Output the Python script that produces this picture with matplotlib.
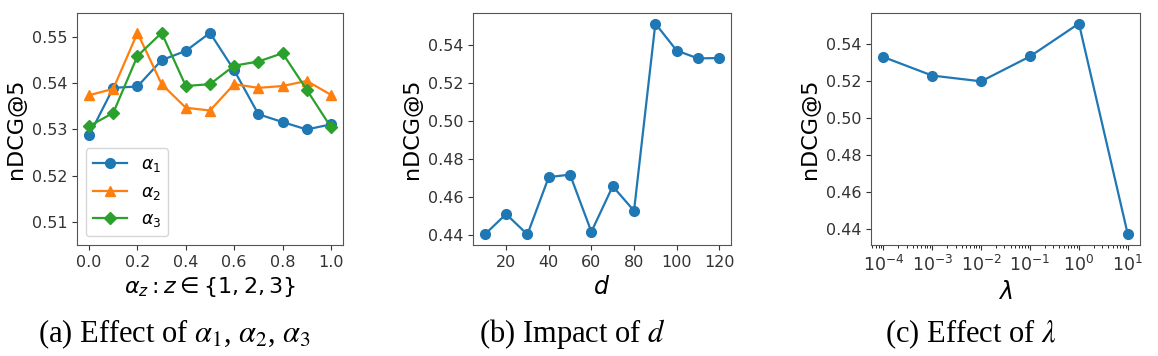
"""Parameter sensitivity - nDCG@5"""
import matplotlib
matplotlib.use('Agg')
import matplotlib.pyplot as plt
from matplotlib.ticker import LogLocator

# (a) alpha sweep
alpha_x = [0.0, 0.1, 0.2, 0.3, 0.4, 0.5, 0.6, 0.7, 0.8, 0.9, 1.0]
alpha1 = [0.5287, 0.5390, 0.5393, 0.5450, 0.5470, 0.5509, 0.5428, 0.5333, 0.5316, 0.5300, 0.5311]
alpha2 = [0.5374, 0.5388, 0.5509, 0.5398, 0.5347, 0.5341, 0.5398, 0.5390, 0.5394, 0.5405, 0.5375]
alpha3 = [0.5307, 0.5336, 0.5459, 0.5509, 0.5394, 0.5398, 0.5438, 0.5447, 0.5465, 0.5386, 0.5305]

# (b) dimension d
d_x = [10, 20, 30, 40, 50, 60, 70, 80, 90, 100, 110, 120]
d_y = [0.4405, 0.4512, 0.4405, 0.4706, 0.4719, 0.4419, 0.4658, 0.4529, 0.5512, 0.5370, 0.5329, 0.5331]

# (c) lambda
lam_x = [1e-4, 1e-3, 1e-2, 1e-1, 1e0, 1e1]
lam_y = [0.5328, 0.5228, 0.5197, 0.5331, 0.5508, 0.4373]

captions = [r'(a) Effect of $\alpha_1$, $\alpha_2$, $\alpha_3$',
            r'(b) Impact of $d$',
            r'(c) Effect of $\lambda$']

TICK = 11.5
LAB = 16
LW = 1.6
MS = 7

fig = plt.figure(figsize=(11.58, 3.56), dpi=100)
bottom, height = 0.3118, 0.6517
ax1 = fig.add_axes([0.0665, bottom, 0.2297, height])
ax2 = fig.add_axes([0.4085, bottom, 0.2228, height])
ax3 = fig.add_axes([0.7522, bottom, 0.2323, height])

# (a)
ax1.plot(alpha_x, alpha1, marker='o', color='tab:blue', linewidth=LW, markersize=MS, label=r'$\alpha_1$')
ax1.plot(alpha_x, alpha2, marker='^', color='tab:orange', linewidth=LW, markersize=MS, label=r'$\alpha_2$')
ax1.plot(alpha_x, alpha3, marker='D', color='tab:green', linewidth=LW, markersize=MS - 0.5, label=r'$\alpha_3$')
ax1.set_ylim(0.505, 0.5552)
ax1.set_xticks([0.0, 0.2, 0.4, 0.6, 0.8, 1.0])
ax1.set_yticks([0.51, 0.52, 0.53, 0.54, 0.55])
ax1.set_xlabel(r'$\alpha_z: z \in \{1, 2, 3\}$', fontsize=LAB)
ax1.legend(loc='lower left', fontsize=12.5)

# (b)
ax2.plot(d_x, d_y, marker='o', color='tab:blue', linewidth=LW, markersize=MS)
ax2.set_xticks([20, 40, 60, 80, 100, 120])
ax2.set_yticks([0.44, 0.46, 0.48, 0.50, 0.52, 0.54])
ax2.set_xlabel(r'$d$', fontsize=LAB + 1)

# (c)
ax3.plot(lam_x, lam_y, marker='o', color='tab:blue', linewidth=LW, markersize=MS)
ax3.set_xscale('log')
ax3.set_xticks(lam_x)
ax3.xaxis.set_minor_locator(LogLocator(base=10, subs=range(2, 10), numticks=20))
ax3.set_yticks([0.44, 0.46, 0.48, 0.50, 0.52, 0.54])
ax3.set_xlabel(r'$\lambda$', fontsize=LAB + 1)

for ax in (ax1, ax2, ax3):
    ax.set_ylabel('nDCG@5', fontsize=LAB)
    ax.tick_params(labelsize=TICK, colors='#333333')
    for s in ax.spines.values():
        s.set_color('#555555')
ax3.tick_params(axis='x', labelsize=12.5)

cap_x = [0.151, 0.494, 0.838]
for x, txt in zip(cap_x, captions):
    fig.text(x, 1 - 334 / 356, txt, ha='center', va='center', fontsize=22,
             family='Liberation Serif', math_fontfamily='stix')

plt.savefig('out.png', dpi=100)
plt.close()
